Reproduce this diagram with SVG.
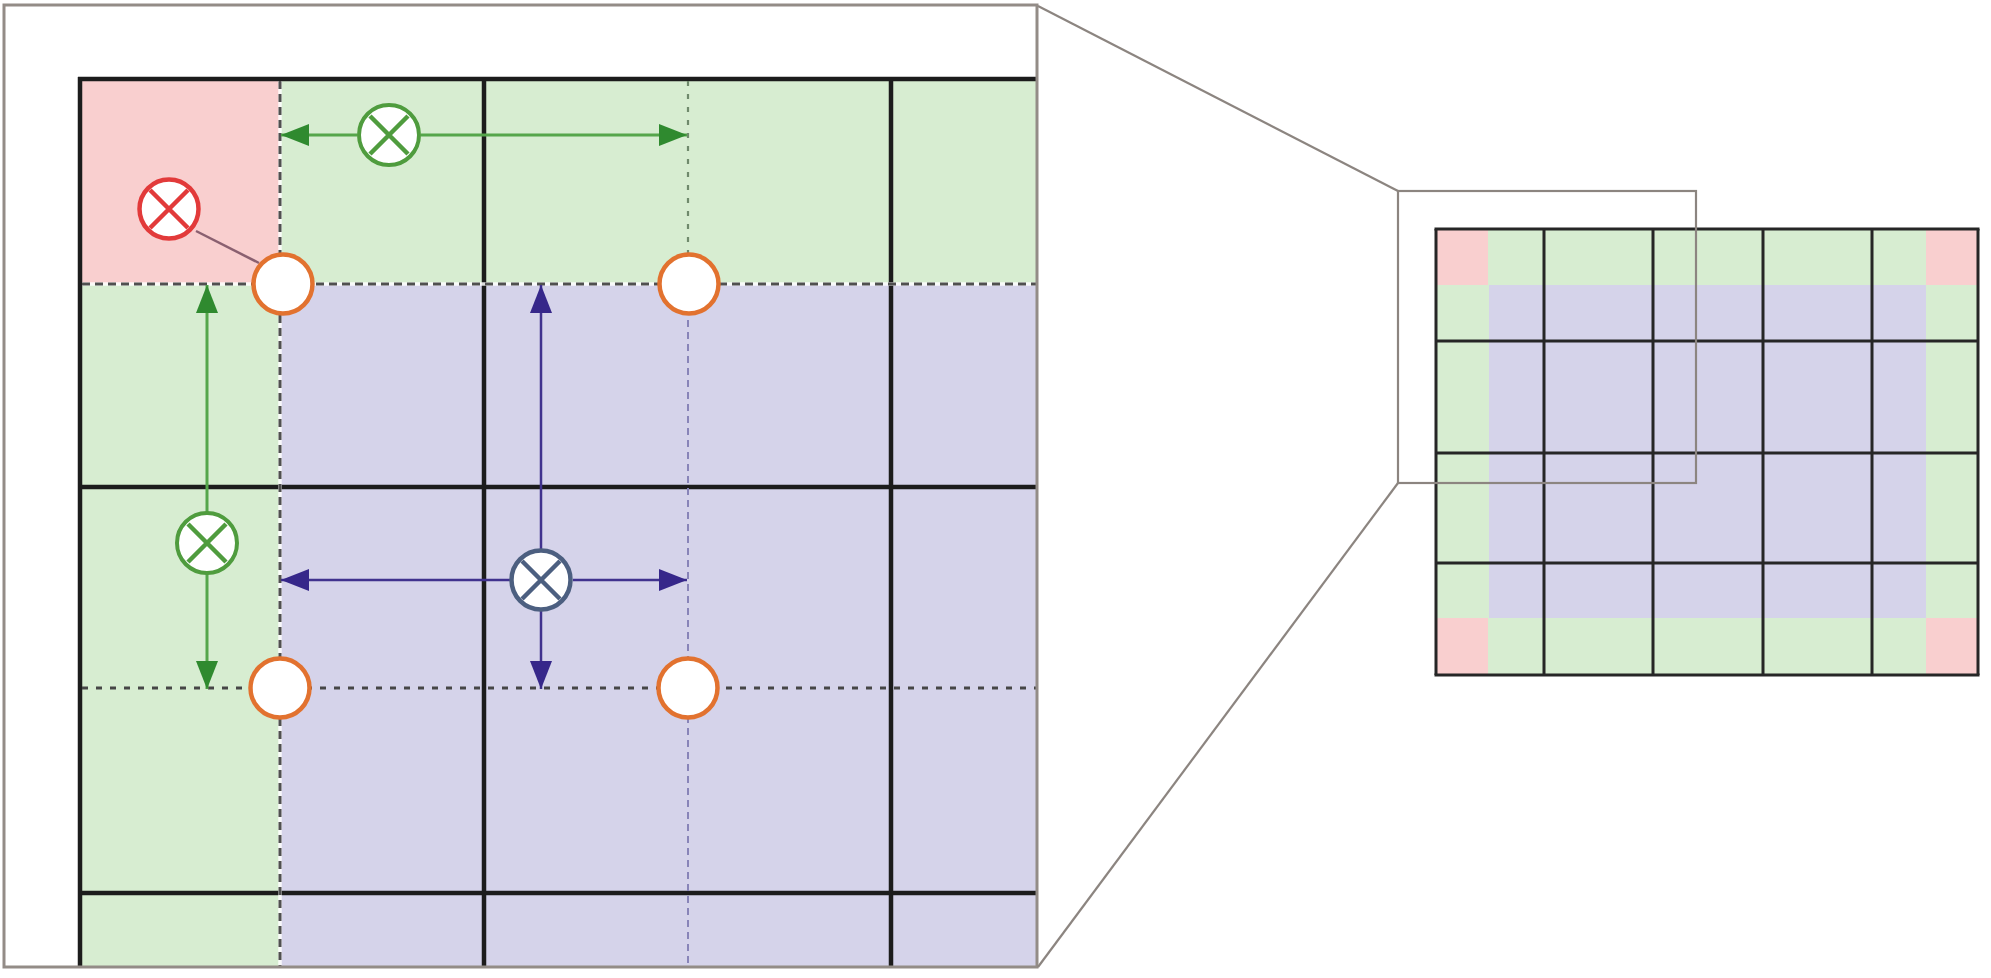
<svg xmlns="http://www.w3.org/2000/svg" width="1991" height="978" viewBox="0 0 1991 978">
<style>
.pink{fill:#f9cfcf}
.green{fill:#d7edd1}
.purple{fill:#d5d3ea}
.thick{stroke:#1c1c1c;stroke-width:4.5;fill:none}
.thin{stroke:#262626;stroke-width:3;fill:none}
.frame{stroke:#938c87;stroke-width:3;fill:none}
.zoomline{stroke:#8c8580;stroke-width:2.2;fill:none}
.whitebase{stroke:#ffffff;stroke-width:3.5;opacity:0.85}
.dash{stroke:#505050;stroke-width:3;stroke-dasharray:8 5}
.dot{stroke:#464646;stroke-width:3;stroke-dasharray:6 8}
.dashg{stroke:#6f8a6c;stroke-width:2.2;stroke-dasharray:5 8}
.dashp{stroke:#8884b8;stroke-width:2;stroke-dasharray:7 5}
.garrow{stroke:#55a64b;stroke-width:3;fill:none}
.barrow{stroke:#40328e;stroke-width:2.5;fill:none}
.orange{fill:#ffffff;stroke:#e2722f;stroke-width:4.5}
.xred{fill:#ffffff;stroke:#e23a3a;stroke-width:4.5}
.xgreen{fill:#ffffff;stroke:#4f9c3e;stroke-width:4}
.xblue{fill:#ffffff;stroke:#4c5f80;stroke-width:4.5}
</style>
<defs>
<clipPath id="clipL"><rect x="4" y="5" width="1033" height="962"/></clipPath>
<marker id="ag" markerUnits="userSpaceOnUse" markerWidth="30" markerHeight="24" refX="28" refY="11" orient="auto-start-reverse" viewBox="0 0 30 24"><path d="M0,0 L28,11 L0,22 Z" fill="#2f8a2f"/></marker>
<marker id="ab" markerUnits="userSpaceOnUse" markerWidth="30" markerHeight="24" refX="28" refY="11" orient="auto-start-reverse" viewBox="0 0 30 24"><path d="M0,0 L28,11 L0,22 Z" fill="#36278a"/></marker>
</defs>
<rect width="1991" height="978" fill="#ffffff"/>

<g id="left-panel">
<g clip-path="url(#clipL)">
<rect class="pink" x="80" y="79" width="200" height="205"/>
<rect class="green" x="280" y="79" width="760" height="205"/>
<rect class="green" x="80" y="284" width="200" height="690"/>
<rect class="purple" x="280" y="284" width="760" height="690"/>
<g id="left-grid-lines">
<line class="thick" x1="80" y1="77" x2="80" y2="970"/>
<line class="thick" x1="484" y1="79" x2="484" y2="970"/>
<line class="thick" x1="891" y1="79" x2="891" y2="970"/>
<line class="thick" x1="78" y1="79" x2="1040" y2="79"/>
<line class="thick" x1="80" y1="487" x2="1040" y2="487"/>
<line class="thick" x1="80" y1="893" x2="1040" y2="893"/>
</g>
<g id="left-dashed-lines">
<line class="whitebase" x1="280" y1="81" x2="280" y2="967"/>
<line class="dash" x1="280" y1="81" x2="280" y2="967"/>
<line class="whitebase" x1="82" y1="284" x2="1037" y2="284"/>
<line class="dash" x1="82" y1="284" x2="1037" y2="284"/>
<line class="dashg" x1="688" y1="81" x2="688" y2="284"/>
<line class="dashp" x1="688" y1="284" x2="688" y2="967"/>
<line class="dot" x1="82" y1="688" x2="1037" y2="688"/>
</g>
</g>
<rect id="left-frame" class="frame" x="4" y="5" width="1033" height="962"/>
</g>

<g id="connectors">
<line class="zoomline" x1="1038" y1="6" x2="1398" y2="191"/>
<line class="zoomline" x1="1038" y1="967" x2="1398" y2="483"/>
<line stroke="#8a6070" stroke-width="2.5" x1="196" y1="231" x2="259" y2="263"/>
<line class="garrow" x1="357" y1="135" x2="281" y2="135" marker-end="url(#ag)"/>
<line class="garrow" x1="421" y1="135" x2="687" y2="135" marker-end="url(#ag)"/>
<line class="garrow" x1="207" y1="512" x2="207" y2="285" marker-end="url(#ag)"/>
<line class="garrow" x1="207" y1="574" x2="207" y2="689" marker-end="url(#ag)"/>
<line class="barrow" x1="510" y1="580" x2="281" y2="580" marker-end="url(#ab)"/>
<line class="barrow" x1="573" y1="580" x2="687" y2="580" marker-end="url(#ab)"/>
<line class="barrow" x1="541" y1="549" x2="541" y2="285" marker-end="url(#ab)"/>
<line class="barrow" x1="541" y1="611" x2="541" y2="689" marker-end="url(#ab)"/>
</g>

<g id="node-red-x">
<circle class="xred" cx="169" cy="209" r="29.5"/>
<path d="M150,190 L188,228 M188,190 L150,228" stroke="#e23a3a" stroke-width="4.5"/>
</g>
<g id="node-green-x-top">
<circle class="xgreen" cx="389" cy="135" r="30"/>
<path d="M370,116 L408,154 M408,116 L370,154" stroke="#4f9c3e" stroke-width="4.5"/>
</g>
<g id="node-green-x-left">
<circle class="xgreen" cx="207" cy="543" r="30"/>
<path d="M188,524 L226,562 M226,524 L188,562" stroke="#4f9c3e" stroke-width="4.5"/>
</g>
<g id="node-blue-x">
<circle class="xblue" cx="541" cy="580" r="29.5"/>
<path d="M522,561 L560,599 M560,561 L522,599" stroke="#4c5f80" stroke-width="4.5"/>
</g>
<g id="node-orange-1"><circle class="orange" cx="283" cy="284" r="29.5"/></g>
<g id="node-orange-2"><circle class="orange" cx="689" cy="284" r="29.5"/></g>
<g id="node-orange-3"><circle class="orange" cx="280" cy="688" r="29.5"/></g>
<g id="node-orange-4"><circle class="orange" cx="688" cy="688" r="29.5"/></g>

<g id="right-panel">
<rect class="green" x="1436" y="229" width="542" height="446"/>
<rect class="pink" x="1436" y="229" width="52" height="56"/>
<rect class="pink" x="1926" y="229" width="52" height="56"/>
<rect class="pink" x="1436" y="618" width="52" height="57"/>
<rect class="pink" x="1926" y="618" width="52" height="57"/>
<rect class="purple" x="1489" y="285" width="437" height="333"/>
<g id="right-grid-lines">
<line class="thin" x1="1436" y1="229" x2="1436" y2="675"/>
<line class="thin" x1="1544" y1="229" x2="1544" y2="675"/>
<line class="thin" x1="1653" y1="229" x2="1653" y2="675"/>
<line class="thin" x1="1763" y1="229" x2="1763" y2="675"/>
<line class="thin" x1="1872" y1="229" x2="1872" y2="675"/>
<line class="thin" x1="1978" y1="229" x2="1978" y2="675"/>
<line class="thin" x1="1434.5" y1="229" x2="1979.5" y2="229"/>
<line class="thin" x1="1436" y1="341" x2="1978" y2="341"/>
<line class="thin" x1="1436" y1="453" x2="1978" y2="453"/>
<line class="thin" x1="1436" y1="563" x2="1978" y2="563"/>
<line class="thin" x1="1434.5" y1="675" x2="1979.5" y2="675"/>
</g>
<rect id="zoom-box" class="zoomline" x="1398" y="191" width="298" height="292"/>
</g>
</svg>
